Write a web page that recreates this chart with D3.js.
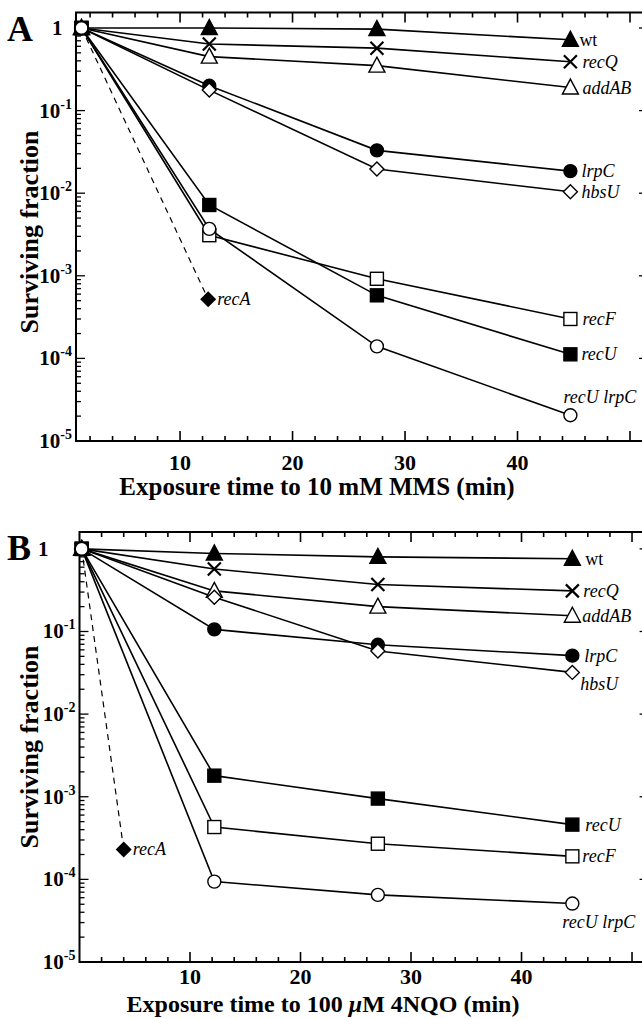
<!DOCTYPE html>
<html>
<head>
<meta charset="utf-8">
<script src="https://cdnjs.cloudflare.com/ajax/libs/d3/7.8.5/d3.min.js"></script>
<style>
  body { margin: 0; background: #fff; }
  svg { display: block; font-family: "Liberation Serif", "Times New Roman", serif; }
</style>
</head>
<body>
<div id="chart"></div>
<script>
// surviving fraction curves

const strains = ["wt", "recQ", "addAB", "lrpC", "hbsU", "recF", "recU", "recU lrpC"]
const symbols = ["triFill", "cross", "triOpen", "circFill", "diamOpen", "sqOpen", "sqFill", "circOpen"]

// panel A : MMS
const timesA = [1.24, 12.6, 27.5, 44.7]
const mmsValues = [
    [1, 1.0, 0.97, 0.72],
    [1, 0.64, 0.57, 0.39],
    [1, 0.45, 0.35, 0.19],
    [1, 0.20, 0.033, 0.0185],
    [1, 0.177, 0.0196, 0.0104],
    [1, 0.0031, 0.00092, 0.00030],
    [1, 0.0072, 0.00058, 0.000112],
    [1, 0.0037, 0.00014, 0.0000205]
]
const recATimesA = [1.24, 12.5]
const recAValuesA = [1, 0.00052]

// panel B : 4NQO
const timesB = [0.2, 12.2, 27.0, 44.6]
const nqoValues = [
    [1, 0.88, 0.80, 0.76],
    [1, 0.57, 0.37, 0.31],
    [1, 0.31, 0.20, 0.155],
    [1, 0.106, 0.069, 0.051],
    [1, 0.26, 0.058, 0.032],
    [1, 0.00043, 0.00027, 0.00019],
    [1, 0.0018, 0.00095, 0.00046],
    [1, 0.000094, 0.000065, 0.000051]
]
const recATimesB = [0.2, 4.0]
const recAValuesB = [1, 0.00023]

const xTickLabels = [10, 20, 30, 40]
const yTickLabels = [1, 1e-1, 1e-2, 1e-3, 1e-4, 1e-5]

// label placement next to last point [dx, dy]
const labelPosA = [[9, 6], [12, 6], [12, 6], [11, 6], [11, 6], [12, 6], [11, 6], [-7, -12]]
const labelPosB = [[13, 6], [11, 6], [10, 6], [12, 6], [8, 18], [10, 6], [13, 6], [-10, 24]]

const W = 642, H = 1019

const svg = d3.select("#chart").append("svg")
    .attr("width", W)
    .attr("height", H)

function drawMarker(g, type, x, y) {
    let s = 7.5
    if (type == "triFill" || type == "triOpen") {
        g.append("path")
            .attr("d", `M${x},${y - s - 1}L${x + s + 0.5},${y + s - 1}L${x - s - 0.5},${y + s - 1}Z`)
            .attr("fill", type == "triFill" ? "#000" : "#fff")
            .attr("stroke", "#000").attr("stroke-width", 1.4)
    } else if (type == "cross") {
        g.append("path")
            .attr("d", `M${x - 6.5},${y - 6.5}L${x + 6.5},${y + 6.5}M${x - 6.5},${y + 6.5}L${x + 6.5},${y - 6.5}`)
            .attr("stroke", "#000").attr("stroke-width", 2.2)
    } else if (type == "circFill" || type == "circOpen") {
        g.append("circle").attr("cx", x).attr("cy", y).attr("r", 6.5)
            .attr("fill", type == "circFill" ? "#000" : "#fff")
            .attr("stroke", "#000").attr("stroke-width", 1.4)
    } else if (type == "diamOpen" || type == "diamFill") {
        g.append("path")
            .attr("d", `M${x},${y - 7}L${x + 7},${y}L${x},${y + 7}L${x - 7},${y}Z`)
            .attr("fill", type == "diamFill" ? "#000" : "#fff")
            .attr("stroke", "#000").attr("stroke-width", 1.4)
    } else if (type == "sqOpen" || type == "sqFill") {
        g.append("rect").attr("x", x - 6.5).attr("y", y - 6.5)
            .attr("width", 13).attr("height", 13)
            .attr("fill", type == "sqFill" ? "#000" : "#fff")
            .attr("stroke", "#000").attr("stroke-width", 1.4)
    }
}

function superLabel(sel, v) {
    if (v == 1) {
        sel.text("1")
        return
    }
    let e = Math.round(Math.log10(v))
    sel.append("tspan").text("10")
    sel.append("tspan").attr("dy", -9).attr("font-size", 14).text(e)
}

function drawPanel(opt) {
    let x = d3.scaleLinear().domain(opt.xDomain).range(opt.xRange)
    let y = d3.scaleLog().domain(opt.yDomain).range(opt.yRange)
    let g = svg.append("g")

    let left = opt.xRange[0], right = opt.xRange[1]
    let top = opt.yRange[0], bottom = opt.yRange[1]

    // axis ticks every 2 min, inward
    let xt = d3.range(2, 52, 2)
    let xTicks = g.append("g")
    xt.forEach(t => {
        let len = t % 10 == 0 ? 10 : 5
        xTicks.append("line").attr("x1", x(t)).attr("x2", x(t))
            .attr("y1", bottom).attr("y2", bottom - len)
        xTicks.append("line").attr("x1", x(t)).attr("x2", x(t))
            .attr("y1", top).attr("y2", top + len)
    })
    xTicks.selectAll("line").attr("stroke", "#000").attr("stroke-width", 1.6)

    // log ticks on y
    let yTicks = g.append("g")
    y.ticks().forEach(v => {
        let major = Math.abs(Math.log10(v) - Math.round(Math.log10(v))) < 1e-6
        let len = major ? 9 : 5
        yTicks.append("line").attr("x1", left).attr("x2", left + len)
            .attr("y1", y(v)).attr("y2", y(v))
        yTicks.append("line").attr("x1", right).attr("x2", right - len)
            .attr("y1", y(v)).attr("y2", y(v))
    })
    yTicks.selectAll("line").attr("stroke", "#000").attr("stroke-width", 1.3)

    // frame
    g.append("path")
        .attr("d", `M${right},${top}L${left},${top}L${left},${bottom}L${right},${bottom}Z`)
        .attr("fill", "none").attr("stroke", "#000").attr("stroke-width", 2)

    // tick labels
    g.selectAll(null).data(xTickLabels).enter().append("text")
        .attr("x", d => x(d)).attr("y", bottom + opt.tickDy)
        .attr("text-anchor", "middle")
        .attr("font-size", 22).attr("font-weight", "bold")
        .text(d => d)

    g.selectAll(null).data(yTickLabels).enter().append("text")
        .attr("x", d => d == 1 ? opt.oneX : left - 4)
        .attr("y", d => y(d) + 7)
        .attr("text-anchor", d => d == 1 ? "start" : "end")
        .attr("font-size", 21).attr("font-weight", "bold")
        .each(function (d) { superLabel(d3.select(this), d) })

    // titles
    g.append("text")
        .attr("transform", `translate(38,${opt.yTitleY}) rotate(-90)`)
        .attr("text-anchor", "middle")
        .attr("font-size", 26).attr("font-weight", "bold")
        .text("Surviving fraction")

    let xt2 = g.append("text")
        .attr("x", opt.xTitleX).attr("y", bottom + opt.titleDy)
        .attr("text-anchor", "middle")
        .attr("font-size", opt.titleSize).attr("font-weight", "bold")
    opt.xTitle.forEach(part => {
        xt2.append("tspan").attr("font-style", part[1] ? "italic" : "normal").text(part[0])
    })

    g.append("text")
        .attr("x", opt.letterX).attr("y", opt.letterY)
        .attr("font-size", 36).attr("font-weight", "bold")
        .text(opt.letter)

    // lines
    let line = d3.line().x(d => x(d[0])).y(d => y(d[1]))

    g.append("path")
        .datum(d3.zip(opt.recATimes, opt.recAValues))
        .attr("d", line)
        .attr("fill", "none").attr("stroke", "#000")
        .attr("stroke-width", 1.2).attr("stroke-dasharray", "6,5")

    g.selectAll(null).data(opt.values).enter().append("path")
        .attr("d", d => line(d3.zip(opt.times, d)))
        .attr("fill", "none").attr("stroke", "#000").attr("stroke-width", 1.6)

    // markers, drawn per series
    let mg = g.append("g")
    opt.values.forEach((vals, i) => {
        vals.forEach((v, j) => drawMarker(mg, symbols[i], x(opt.times[j]), y(v)))
    })
    drawMarker(mg, "diamFill", x(opt.recATimes[1]), y(opt.recAValues[1]))
    // start point: the square outline sits on top
    drawMarker(mg, "circOpen", x(opt.times[0]), y(1))
    mg.append("rect").attr("x", x(opt.times[0]) - 6.5).attr("y", y(1) - 6.5)
        .attr("width", 13).attr("height", 13)
        .attr("fill", "none").attr("stroke", "#000").attr("stroke-width", 1.4)

    // strain labels
    opt.values.forEach((vals, i) => {
        let p = opt.labelPos[i]
        g.append("text")
            .attr("x", x(opt.times[3]) + p[0])
            .attr("y", y(vals[3]) + p[1])
            .attr("font-size", 18)
            .attr("font-style", strains[i] == "wt" ? "normal" : "italic")
            .text(strains[i])
    })
    g.append("text")
        .attr("x", x(opt.recATimes[1]) + 9)
        .attr("y", y(opt.recAValues[1]) + 6)
        .attr("font-size", 18).attr("font-style", "italic")
        .text("recA")
}

drawPanel({
    letter: "A", letterX: 7, letterY: 41, oneX: 52,
    xDomain: [0.75, 51.6], xRange: [76, 648],
    yDomain: [1.54, 1e-5], yRange: [12.5, 441],
    times: timesA, values: mmsValues,
    recATimes: recATimesA, recAValues: recAValuesA,
    labelPos: labelPosA, tickDy: 29, titleDy: 54, titleSize: 25,
    yTitleY: 232, xTitleX: 317,
    xTitle: [["Exposure time to 10 mM MMS (min)", false]]
})

drawPanel({
    letter: "B", letterX: 7, letterY: 560, oneX: 38,
    xDomain: [0, 51.5], xRange: [79.5, 648.6],
    yDomain: [1.6, 1e-5], yRange: [532, 962],
    times: timesB, values: nqoValues,
    recATimes: recATimesB, recAValues: recAValuesB,
    labelPos: labelPosB, tickDy: 22, titleDy: 50, titleSize: 24,
    yTitleY: 747, xTitleX: 323,
    xTitle: [["Exposure time to 100 ", false], ["μ", true], ["M 4NQO (min)", false]]
})
</script>
</body>
</html>
